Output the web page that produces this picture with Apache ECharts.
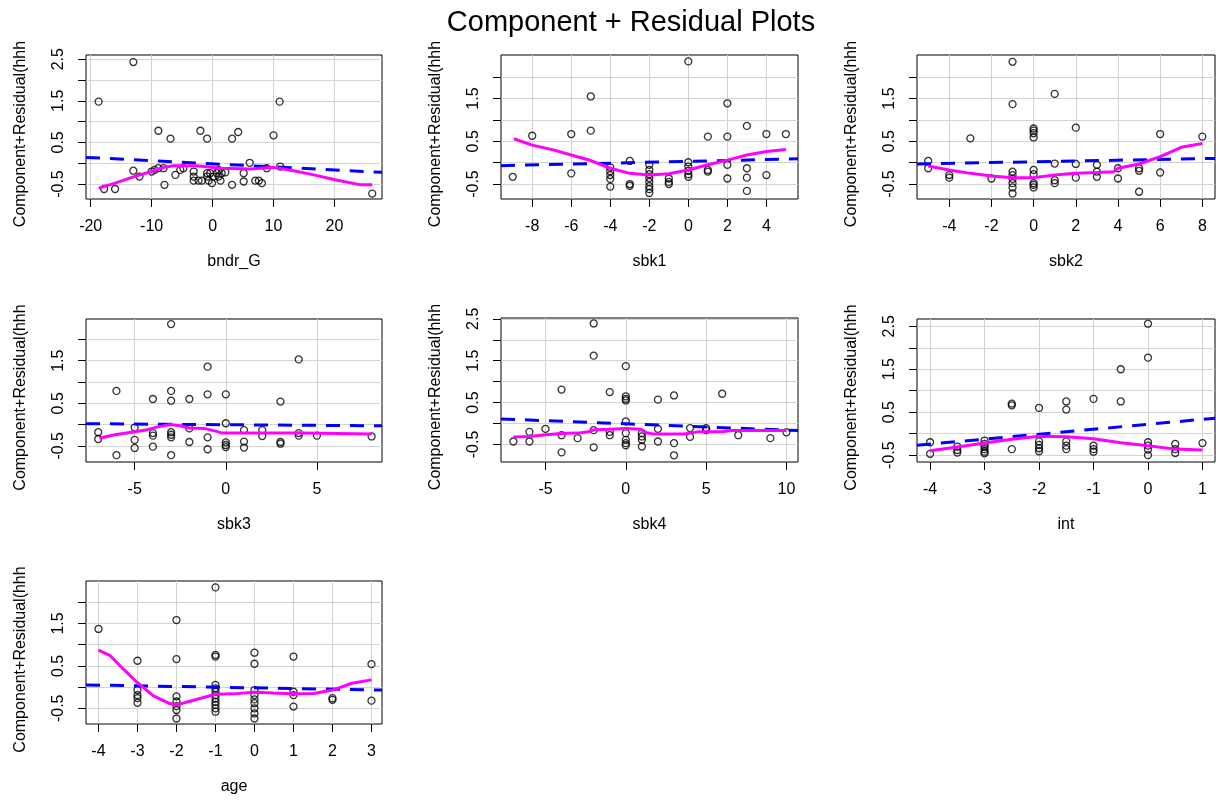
<!DOCTYPE html>
<html><head><meta charset="utf-8">
<script src="https://cdn.jsdelivr.net/npm/echarts@6/dist/echarts.min.js"></script>
<style>html,body{margin:0;padding:0;background:#fff}#c{width:1216px;height:803px}</style>
</head><body><div id="c"></div>
<script>
// ---------- data ----------
const panelNames = ['bndr_G', 'sbk1', 'sbk2', 'sbk3', 'sbk4', 'int', 'age'];
const yAxisName = 'Component+Residual(hhh';

const bndrG_points = [[-18.7,1.48],[-13,2.43],[-17.8,-0.62],[-16,-0.62],[-13,-0.18],[-12,-0.32],
 [-10,-0.2],[-9.5,-0.16],[-8.9,-0.12],[-8.05,-0.12],[-7.9,-0.52],[-8.9,0.78],[-6.9,0.59],
 [-6.1,-0.28],[-5.3,-0.16],[-4.8,-0.12],
 [-3.1,-0.2],[-3.1,-0.32],[-3.1,-0.42],[-2.3,-0.42],[-1.75,-0.42],[-0.9,-0.24],[-0.9,-0.32],[-0.65,-0.42],
 [-0.4,-0.24],[-0.1,-0.48],[0.16,-0.32],[0.7,-0.24],[1,-0.16],[1,-0.32],[1.3,-0.42],[1.5,-0.24],[2.1,-0.22],
 [-2,0.78],[-0.9,0.59],[3.2,0.59],[4.2,0.75],[3.2,-0.52],[5.1,-0.24],[5.1,-0.44],[6.1,0.01],
 [7,-0.42],[7.6,-0.42],[8.1,-0.48],[8.9,-0.12],[10,0.67],[11,1.48],[11.1,-0.08],[26.2,-0.73]];
const bndrG_smooth = [[-18.7,-0.6],[-16,-0.48],[-13,-0.33],[-11.9,-0.28],[-10,-0.2],[-8,-0.1],[-6.4,-0.06],
 [-2.6,-0.06],[1.3,-0.12],[6.2,-0.14],[10,-0.1],[11.7,-0.14],[13.9,-0.2],[16.6,-0.28],[19.9,-0.39],[24.3,-0.52],[26.2,-0.52]];
const bndrG_fit = [[-20.77,0.14],[27.8,-0.22]];
const bndrG_xRange = [-20.77, 27.8];
const bndrG_yRange = [-0.86, 2.6];
const bndrG_xTicks = [-20,-10,0,10,20];

const sbk1_points = [[-9,-0.33],[-8,0.63],[-6,0.67],[-6,-0.25],[-5,1.55],[-5,0.75],
 [-4,-0.11],[-4,-0.2],[-4,-0.29],[-4,-0.38],[-4,-0.56],
 [-3,0.04],[-3,-0.5],[-3,-0.54],
 [-2,-0.05],[-2,-0.17],[-2,-0.27],[-2,-0.36],[-2,-0.45],[-2,-0.55],[-2,-0.62],[-2,-0.71],
 [-1,-0.37],[-1,-0.45],[-1,-0.5],
 [0,2.37],[0,0.01],[0,-0.09],[0,-0.19],[0,-0.27],[0,-0.33],
 [1,0.61],[1,-0.17],[1,-0.21],
 [2,1.39],[2,0.61],[2,-0.05],[2,-0.37],
 [3,0.86],[3,-0.13],[3,-0.35],[3,-0.66],
 [4,0.67],[4,-0.29],[5,0.67]];
const sbk1_smooth = [[-8.94,0.56],[-8,0.41],[-6.92,0.3],[-6,0.18],[-5,0.05],[-4,-0.13],[-3,-0.25],[-2,-0.29],
 [-1,-0.26],[0,-0.17],[1,-0.05],[2,0.06],[3,0.18],[4,0.26],[5,0.31]];
const sbk1_fit = [[-9.6,-0.07],[5.62,0.09]];
const sbk1_xRange = [-9.6, 5.62];
const sbk1_yRange = [-0.85, 2.52];
const sbk1_xTicks = [-8,-6,-4,-2,0,2,4];

const sbk2_points = [[-5,0.04],[-5,-0.13],[-4,-0.29],[-4,-0.35],[-3,0.57],[-2,-0.37],
 [-1,2.36],[-1,1.37],[-1,-0.21],[-1,-0.29],[-1,-0.38],[-1,-0.48],[-1,-0.58],[-1,-0.72],
 [0,0.8],[0,0.75],[0,0.69],[0,0.59],[0,-0.17],[0,-0.27],[0,-0.48],[0,-0.52],[0,-0.58],
 [1,1.61],[1,-0.02],[1,-0.41],[1,-0.48],
 [2,0.82],[2,-0.03],[2,-0.35],
 [3,-0.05],[3,-0.21],[3,-0.33],
 [4,-0.13],[4,-0.37],
 [5,-0.13],[5,-0.19],[5,-0.68],
 [6,0.67],[6,-0.23],[8,0.61]];
const sbk2_smooth = [[-5,-0.08],[-4,-0.17],[-3,-0.25],[-2,-0.31],[-1,-0.35],[0,-0.35],[1,-0.29],[2,-0.25],
 [3,-0.23],[3.8,-0.21],[4,-0.13],[5,-0.03],[6,0.14],[7,0.36],[8,0.45]];
const sbk2_fit = [[-5.53,-0.03],[8.6,0.10]];
const sbk2_xRange = [-5.53, 8.6];
const sbk2_yRange = [-0.85, 2.52];
const sbk2_xTicks = [-4,-2,0,2,4,6,8];

const sbk3_points = [[-7,-0.18],[-7,-0.34],[-6,0.79],[-6,-0.72],[-5,-0.07],[-5,-0.36],[-5,-0.55],
 [-4,0.6],[-4,-0.2],[-4,-0.26],[-4,-0.52],
 [-3,2.36],[-3,0.79],[-3,0.56],[-3,-0.18],[-3,-0.24],[-3,-0.3],[-3,-0.72],
 [-2,0.6],[-2,-0.09],[-2,-0.41],
 [-1,1.36],[-1,0.71],[-1,-0.3],[-1,-0.58],
 [0,0.71],[0,0.03],[0,-0.42],[0,-0.48],[0,-0.53],
 [1,-0.13],[1,-0.4],[1,-0.54],
 [2,-0.13],[2,-0.27],
 [3,0.54],[3,-0.41],[3,-0.45],
 [4,1.53],[4,-0.2],[4,-0.26],
 [5,-0.26],[8,-0.28]];
const sbk3_smooth = [[-6.94,-0.32],[-6.08,-0.24],[-5,-0.17],[-4.3,-0.12],[-3.8,-0.06],[-3.04,0.0],[-2.5,-0.03],
 [-2,-0.08],[-1.2,-0.09],[-0.5,-0.16],[-0.2,-0.2],[1.9,-0.2],[4.1,-0.2],[8,-0.22]];
const sbk3_fit = [[-7.67,0.02],[8.57,-0.03]];
const sbk3_xRange = [-7.67, 8.57];
const sbk3_yRange = [-0.88, 2.48];
const sbk3_xTicks = [-5,0,5];

const sbk4_points = [[-7,-0.43],[-6,-0.2],[-6,-0.43],[-5,-0.13],[-4,0.81],[-4,-0.28],[-4,-0.69],[-3,-0.35],
 [-2,2.39],[-2,1.62],[-2,-0.16],[-2,-0.57],
 [-1,0.75],[-1,-0.2],[-1,-0.28],
 [0,1.37],[0,0.65],[0,0.59],[0,0.55],[0,0.05],[0,-0.23],[0,-0.39],[0,-0.47],[0,-0.52],
 [1,-0.23],[1,-0.31],[1,-0.39],[1,-0.55],
 [2,0.57],[2,-0.13],[2,-0.43],
 [3,0.67],[3,-0.47],[3,-0.76],
 [4,-0.11],[4,-0.32],
 [5,-0.11],[5,-0.16],
 [6,0.71],[7,-0.28],[9,-0.35],[10,-0.21]];
const sbk4_smooth = [[-7,-0.32],[-6,-0.31],[-5,-0.27],[-4,-0.24],[-3,-0.23],[-2.3,-0.2],[-2,-0.15],[-1,-0.14],
 [0,-0.12],[0.93,-0.14],[1.3,-0.22],[1.7,-0.25],[3.6,-0.25],[4.5,-0.2],[6,-0.2],[6.6,-0.17],[10,-0.17]];
const sbk4_fit = [[-7.77,0.11],[10.72,-0.17]];
const sbk4_xRange = [-7.77, 10.72];
const sbk4_yRange = [-0.92, 2.52];
const sbk4_xTicks = [-5,0,5,10];

const int_points = [[-4,-0.2],[-4,-0.47],
 [-3.5,-0.3],[-3.5,-0.38],[-3.5,-0.44],
 [-3,-0.16],[-3,-0.24],[-3,-0.3],[-3,-0.36],[-3,-0.42],[-3,-0.46],
 [-2.5,0.7],[-2.5,0.66],[-2.5,-0.36],
 [-2,0.6],[-2,-0.18],[-2,-0.26],[-2,-0.34],[-2,-0.41],
 [-1.5,0.75],[-1.5,0.56],[-1.5,-0.18],[-1.5,-0.28],[-1.5,-0.36],
 [-1,0.81],[-1,-0.28],[-1,-0.36],[-1,-0.42],
 [-0.5,1.5],[-0.5,0.75],
 [0,2.56],[0,1.77],[0,-0.2],[0,-0.28],[0,-0.37],[0,-0.5],
 [0.5,-0.24],[0.5,-0.36],[0.5,-0.45],
 [1,-0.22]];
const int_smooth = [[-4,-0.4],[-3.5,-0.31],[-3,-0.22],[-2.5,-0.13],[-2,-0.06],[-1.5,-0.07],[-1,-0.12],
 [-0.5,-0.21],[0,-0.28],[0.5,-0.36],[1,-0.38]];
const int_fit = [[-4.24,-0.27],[1.23,0.36]];
const int_xRange = [-4.24, 1.23];
const int_yRange = [-0.66, 2.67];
const int_xTicks = [-4,-3,-2,-1,0,1];

const age_points = [[-4,1.37],
 [-3,0.62],[-3,-0.07],[-3,-0.19],[-3,-0.26],[-3,-0.37],
 [-2,1.58],[-2,0.66],[-2,-0.22],[-2,-0.34],[-2,-0.45],[-2,-0.54],[-2,-0.74],
 [-1,2.35],[-1,0.76],[-1,0.72],[-1,0.05],[-1,-0.03],[-1,-0.11],[-1,-0.19],[-1,-0.27],[-1,-0.35],[-1,-0.42],[-1,-0.5],[-1,-0.58],
 [0,0.81],[0,0.55],[0,-0.07],[0,-0.19],[0,-0.29],[0,-0.38],[0,-0.5],[0,-0.62],[0,-0.74],
 [1,0.72],[1,-0.11],[1,-0.19],[1,-0.46],
 [2,-0.26],[2,-0.3],
 [3,0.54],[3,-0.32]];
const age_smooth = [[-4,0.87],[-3.7,0.74],[-3.4,0.46],[-3.02,0.12],[-2.6,-0.2],[-2.2,-0.38],[-2,-0.42],
 [-1.56,-0.31],[-1,-0.17],[-0.54,-0.16],[0,-0.12],[0.49,-0.14],[1,-0.16],[1.52,-0.15],[2,-0.07],[2.5,0.09],[3,0.17]];
const age_fit = [[-4.32,0.05],[3.27,-0.07]];
const age_xRange = [-4.32, 3.27];
const age_yRange = [-0.87, 2.5];
const age_xTicks = [-4,-3,-2,-1,0,1,2,3];

const yTicksTall = [-0.5,0,0.5,1,1.5,2,2.5];
const yLabelsTall = [-0.5,0.5,1.5,2.5];
const yTicksShort = [-0.5,0,0.5,1,1.5,2];
const yLabelsShort = [-0.5,0.5,1.5];

// ---------- layout (pixels) ----------
const layout = [
  {left:86, top:55, width:296, height:144},
  {left:501, top:55, width:297, height:144},
  {left:917, top:55, width:298, height:144},
  {left:86, top:319, width:296, height:143},
  {left:501, top:318, width:297, height:144},
  {left:917, top:319, width:298, height:143},
  {left:86, top:581, width:296, height:143}
];

const panelData = [
  [bndrG_points, bndrG_smooth, bndrG_fit, bndrG_xRange, bndrG_yRange, bndrG_xTicks, yTicksTall, yLabelsTall],
  [sbk1_points, sbk1_smooth, sbk1_fit, sbk1_xRange, sbk1_yRange, sbk1_xTicks, yTicksShort, yLabelsShort],
  [sbk2_points, sbk2_smooth, sbk2_fit, sbk2_xRange, sbk2_yRange, sbk2_xTicks, yTicksShort, yLabelsShort],
  [sbk3_points, sbk3_smooth, sbk3_fit, sbk3_xRange, sbk3_yRange, sbk3_xTicks, yTicksShort, yLabelsShort],
  [sbk4_points, sbk4_smooth, sbk4_fit, sbk4_xRange, sbk4_yRange, sbk4_xTicks, yTicksTall, yLabelsTall],
  [int_points, int_smooth, int_fit, int_xRange, int_yRange, int_xTicks, yTicksTall, yLabelsTall],
  [age_points, age_smooth, age_fit, age_xRange, age_yRange, age_xTicks, yTicksShort, yLabelsShort]
];

const FONT = '"Liberation Sans", Arial, Helvetica, sans-serif';
const grids = [], xAxes = [], yAxes = [], series = [];

panelData.forEach((p, i) => {
  const [pts, smooth, fit, xr, yr, xt, yt, yl] = p;
  grids.push(Object.assign({show:true, borderColor:'#000', borderWidth:1, backgroundColor:'transparent'}, layout[i]));
  xAxes.push({
    type:'value', gridIndex:i, min:xr[0], max:xr[1],
    axisLine:{show:false, onZero:false},
    axisTick:{show:true, customValues:xt, length:8, inside:false, lineStyle:{color:'#000', width:1}},
    axisLabel:{customValues:xt, margin:20, color:'#000', fontSize:16, fontFamily:FONT, formatter:v=>String(v)},
    splitLine:{show:false},
    name:panelNames[i], nameLocation:'middle', nameGap:55,
    nameTextStyle:{color:'#000', fontSize:16, fontFamily:FONT}
  });
  yAxes.push({
    type:'value', gridIndex:i, min:yr[0], max:yr[1],
    axisLine:{show:false, onZero:false},
    axisTick:{show:true, customValues:yt, length:8, inside:false, lineStyle:{color:'#000', width:1}},
    axisLabel:{customValues:yl, rotate:90, margin:19, color:'#000', fontSize:16, fontFamily:FONT, formatter:v=>String(v)},
    splitLine:{show:false},
    name:yAxisName, nameLocation:'middle', nameRotate:90, nameGap:57,
    nameTextStyle:{color:'#000', fontSize:16, fontFamily:FONT, padding:[0,14,0,0]}
  });
  series.push({
    type:'scatter', xAxisIndex:i, yAxisIndex:i, data:pts, symbol:'circle', symbolSize:7,
    itemStyle:{color:'rgba(0,0,0,0)', borderColor:'#000', borderWidth:1.3}, silent:true, z:3,
    markLine:{silent:true, z:1, symbol:['none','none'], label:{show:false},
      lineStyle:{color:'#d3d3d3', type:'solid', width:1},
      emphasis:{disabled:true},
      data:[...xt.map(v=>({xAxis:v})), ...yt.map(v=>({yAxis:v}))]}
  });
  series.push({
    type:'line', xAxisIndex:i, yAxisIndex:i, data:fit, symbol:'none', silent:true, z:4,
    lineStyle:{color:'#0000ff', width:3, type:[14,10]}
  });
  series.push({
    type:'line', xAxisIndex:i, yAxisIndex:i, data:smooth, symbol:'none', silent:true, z:5,
    lineStyle:{color:'#ff00ff', width:3}
  });
});

const chart = echarts.init(document.getElementById('c'), null, {renderer:'canvas'});
chart.setOption({
  animation:false,
  backgroundColor:'#fff',
  title:{text:'Component + Residual Plots', left:626, textAlign:'center', top:3,
    textStyle:{color:'#000', fontSize:29, fontWeight:'normal', fontFamily:FONT}},
  grid:grids, xAxis:xAxes, yAxis:yAxes, series:series
});
</script></body></html>
